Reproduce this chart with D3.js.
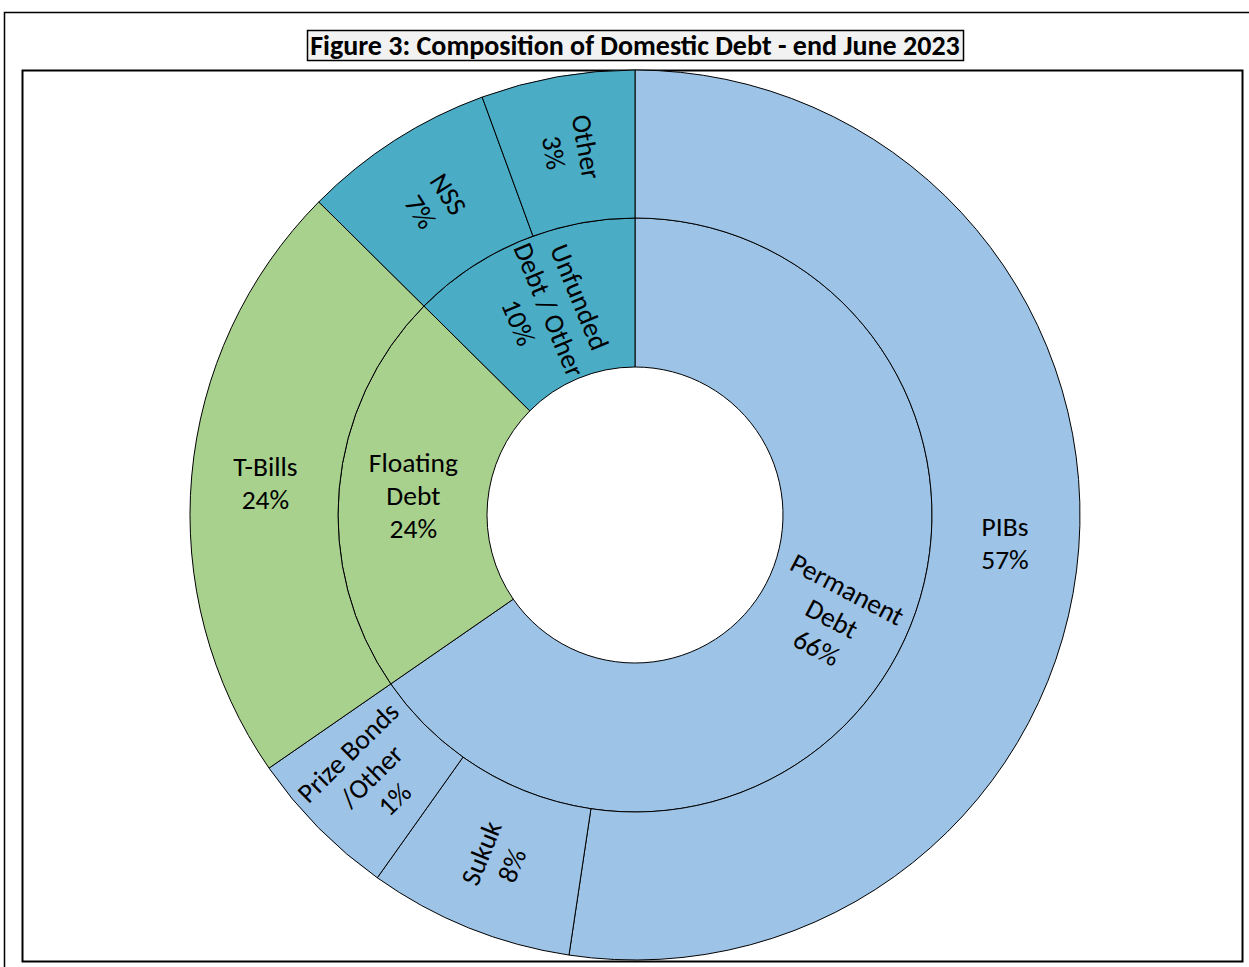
<!DOCTYPE html>
<meta charset="utf-8">
<style>
  body { margin: 0; background: #fff; }
  .lbl { font-family: Carlito, Calibri, Lato, sans-serif; font-size: 27.5px; fill: #000; }
  .ttl { font-family: Carlito, Calibri, Lato, sans-serif; font-size: 28px; font-weight: bold; }
</style>
<body>
<script src="https://d3js.org/d3.v7.min.js"></script>
<script>

// inner ring (debt type) - shares as drawn in the figure
var innerNames  = ["Permanent Debt", "Floating Debt", "Unfunded Debt / Other"];
var innerShares = [65.37, 22.05, 12.58];
var innerLabels = [["Permanent", "Debt", "66%"], ["Floating", "Debt", "24%"], ["Unfunded", "Debt / Other", "10%"]];

// outer ring (instruments), parent = index in inner ring
var outerNames  = ["PIBs", "Sukuk", "Prize Bonds /Other", "T-Bills", "NSS", "Other"];
var outerShares = [52.37, 7.46, 5.54, 22.05, 7.00, 5.58];
var outerParent = [0, 0, 0, 1, 2, 2];
var outerLabels = [["PIBs", "57%"], ["Sukuk", "8%"], ["Prize Bonds", "/Other", "1%"], ["T-Bills", "24%"], ["NSS", "7%"], ["Other", "3%"]];

var colors = ["#9dc3e6", "#a9d18e", "#4bacc6"];

var W = 1249, H = 967;
var cx = 635, cy = 515;
var r0 = 148, r1 = 297, r2 = 445;

var svg = d3.select("body").append("svg")
  .attr("width", W)
  .attr("height", H);

// outer frame (top + left edges visible)
svg.append("path")
  .attr("d", "M4.5," + H + "V12.5H" + W)
  .attr("fill", "none")
  .attr("stroke", "#000")
  .attr("stroke-width", 1.5);

// plot area frame
svg.append("rect")
  .attr("x", 22.5).attr("y", 70.5)
  .attr("width", 1220).attr("height", 891)
  .attr("fill", "#fff")
  .attr("stroke", "#000")
  .attr("stroke-width", 2);

// title box
svg.append("rect")
  .attr("x", 307.5).attr("y", 30.5)
  .attr("width", 656).attr("height", 30)
  .attr("fill", "#f2f2f2")
  .attr("stroke", "#000")
  .attr("stroke-width", 1.5);

svg.append("text")
  .attr("class", "ttl")
  .attr("x", cx).attr("y", 55)
  .attr("text-anchor", "middle")
  .text("Figure 3: Composition of Domestic Debt - end June 2023");

var pie = d3.pie().sort(null).value(d => d).startAngle(0).endAngle(2 * Math.PI);

var inner = pie(innerShares).map((d, i) => Object.assign(d, {
  name: innerNames[i], lines: innerLabels[i], color: colors[i], ri: r0, ro: r1
}));
var outer = pie(outerShares).map((d, i) => Object.assign(d, {
  name: outerNames[i], lines: outerLabels[i], color: colors[outerParent[i]], ri: r1, ro: r2
}));
var nodes = inner.concat(outer);

var arc = d3.arc()
  .innerRadius(d => d.ri)
  .outerRadius(d => d.ro);

var g = svg.append("g").attr("transform", `translate(${cx},${cy})`);

g.selectAll("path.slice")
  .data(nodes)
  .enter().append("path")
  .attr("class", "slice")
  .attr("d", arc)
  .attr("fill", d => d.color)
  .attr("stroke", "#000")
  .attr("stroke-width", 1);

// labels: centred on arc centroid, radial unless nearly horizontal
var lineH = 33;
var lab = g.selectAll("g.lab")
  .data(nodes)
  .enter().append("g")
  .attr("class", "lab")
  .attr("transform", function(d) {
    var c = arc.centroid(d);
    var deg = (d.startAngle + d.endAngle) / 2 * 180 / Math.PI;
    var rot = deg < 180 ? deg - 90 : deg - 270;
    if (Math.abs(rot) < 15) rot = 0;
    return `translate(${c[0]},${c[1]}) rotate(${rot})`;
  });

lab.each(function(d) {
  var t = d3.select(this).append("text")
    .attr("class", "lbl")
    .attr("text-anchor", "middle");
  var n = d.lines.length;
  d.lines.forEach(function(s, k) {
    t.append("tspan")
      .attr("x", 0)
      .attr("y", (k - (n - 1) / 2) * lineH)
      .attr("dy", "0.35em")
      .text(s);
  });
});

</script>
</body>
